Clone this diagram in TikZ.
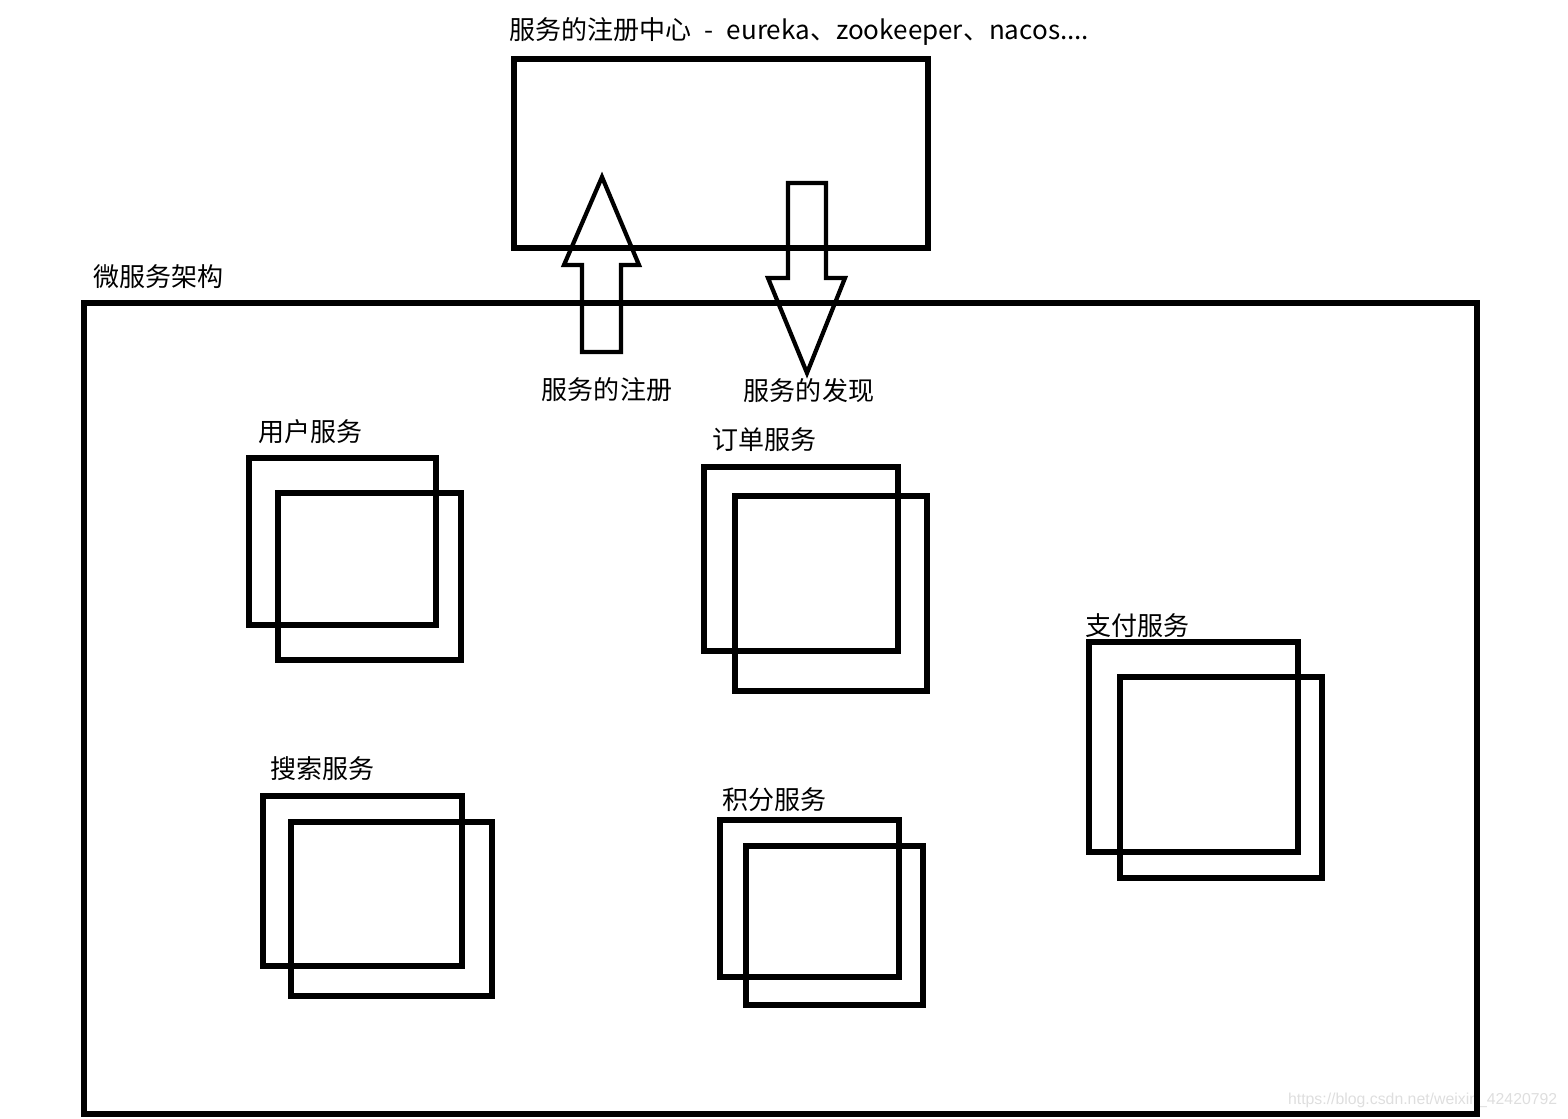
\documentclass[tikz,border=0pt]{standalone}
\usepackage{fontspec}
\setmainfont{Noto Sans CJK SC}
\newfontfamily\wmfont{Liberation Sans}
\usepackage{tikz}
\usetikzlibrary{positioning}

\tikzset{
  frame/.style={line width=1.45pt},
  blockarrow/.style={line width=1.2pt, line join=miter},
  lbl/.style={inner sep=0pt, anchor=west, font=\fontsize{7.4}{9}\selectfont},
}

\begin{document}
\begin{tikzpicture}[x=0.01cm, y=-0.01cm]
\useasboundingbox (0,0) rectangle (1568,1119);
\node[inner sep=0pt, anchor=east, text=black!13, font=\wmfont\fontsize{4.5}{5}\selectfont]
  (wm) at (1558,1100) {https://blog.csdn.net/weixin\_42420792};
% registry
\draw[frame] (514,59) rectangle (928,248);
\node[lbl] (reglbl) at (509,32) {服务的注册中心\hspace{0.5em}-\hspace{0.5em}eureka、zookeeper、nacos....};
% whole system
\draw[frame] (84,303) rectangle (1477,1114);
\node[lbl] (msalbl) at (93,277) {微服务架构};
% register / discover
\draw[blockarrow] (602,177) -- (639,265) -- (621,265) -- (621,352) -- (582,352)
  -- (582,265) -- (564,265) -- cycle;
\draw[blockarrow] (788,183) -- (826,183) -- (826,278) -- (845,278) -- (807,373)
  -- (768,278) -- (788,278) -- cycle;
\node[lbl, anchor=center] (reg) at (607,390) {服务的注册};
\node[lbl, anchor=center] (disc) at (809,391) {服务的发现};
% services, two instances each
\draw[frame] (249,458) rectangle (436,625);
\draw[frame] (278,493) rectangle (461,660);
\node[lbl] (user) at (258,432) {用户服务};
\draw[frame] (704,467) rectangle (898,651);
\draw[frame] (735,496) rectangle (927,691);
\node[lbl] (order) at (712,440) {订单服务};
\draw[frame] (1089,642) rectangle (1298,852);
\draw[frame] (1120,677) rectangle (1322,878);
\node[lbl] (pay) at (1085,626) {支付服务};
\draw[frame] (263,796) rectangle (462,966);
\draw[frame] (291,822) rectangle (492,996);
\node[lbl] (search) at (270,769) {搜索服务};
\draw[frame] (720,820) rectangle (899,977);
\draw[frame] (746,846) rectangle (923,1005);
\node[lbl] (points) at (722,800) {积分服务};
\end{tikzpicture}
\end{document}
